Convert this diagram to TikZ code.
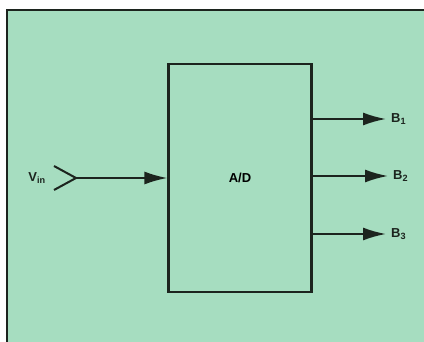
\documentclass[tikz,border=0pt]{standalone}
\usepackage{fontspec}
\setmainfont{Liberation Sans}
\usepackage{xcolor}
\usetikzlibrary{arrows.meta, positioning}

\definecolor{panel}{RGB}{166,221,192}
\definecolor{ink}{RGB}{28,36,30}

\tikzset{
  block/.style={draw=ink, line width=2.2pt, minimum width=143pt, minimum height=228pt},
  lbl/.style={text=ink, inner sep=1pt},
  wire/.style={draw=ink, line width=2pt},
}

\begin{document}
\begin{tikzpicture}[x=1pt, y=-1pt, >={Latex[length=23pt,width=13pt]},
    font=\bfseries\fontsize{13}{15}\selectfont]
    \useasboundingbox (0,0) rectangle (424,342);
    \fill[white] (0,0) rectangle (424,342);
    \fill[panel] (7,10) rectangle (424,342);
    \draw[ink, line width=2pt] (7,342) -- (7,10) -- (424,10);

    \node[block] (AD) at (240,178) {A/D};
    \node[lbl] (Vin) at (37,178) {V\textsubscript{in}};
    \coordinate (tip) at (76,178);
    \coordinate (armA) at (54,166);
    \coordinate (armB) at (54,190);

    \node[lbl, anchor=west] (B1) at (390,119) {B\textsubscript{1}};
    \node[lbl, anchor=west] (B2) at (392,176) {B\textsubscript{2}};
    \node[lbl, anchor=west] (B3) at (390,234) {B\textsubscript{3}};

    \draw[wire] (armA) -- (tip) -- (armB);
    \path[->]
        (tip) edge[wire] (AD.west)
        (AD.east |- B1.west) edge[wire, shorten >=4pt] (B1.west)
        (AD.east |- B2.west) edge[wire, shorten >=4pt] (B2.west)
        (AD.east |- B3.west) edge[wire, shorten >=4pt] (B3.west);
\end{tikzpicture}
\end{document}
